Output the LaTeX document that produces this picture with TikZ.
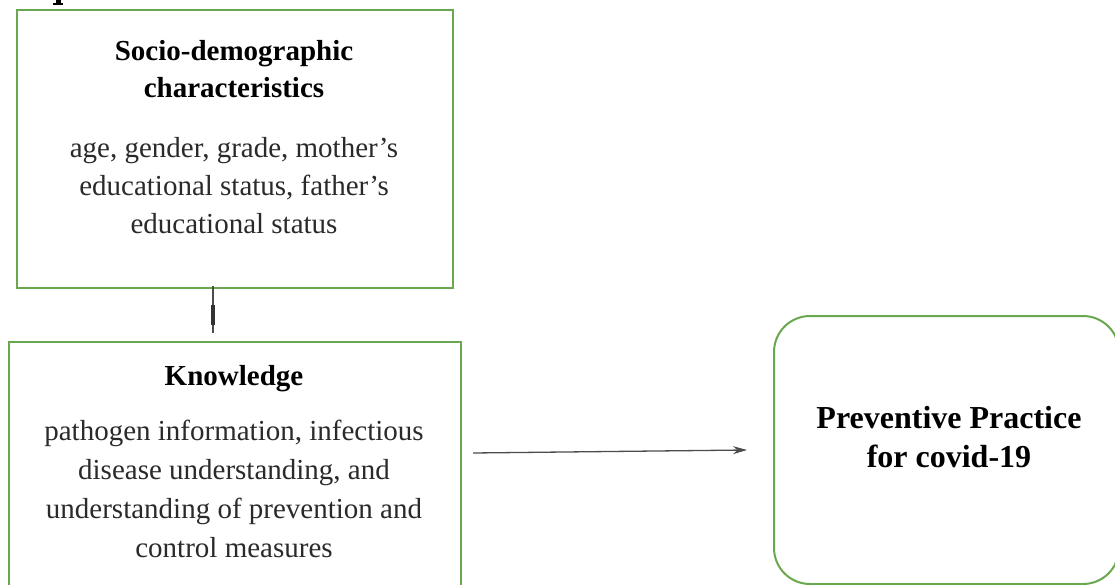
\documentclass[tikz,border=0pt]{standalone}
\usepackage{fontspec}
\setmainfont{Liberation Serif}
\usetikzlibrary{arrows.meta}
\definecolor{boxgreen}{HTML}{6AA84F}
\definecolor{inkgray}{HTML}{2A2A2A}
\newcommand{\myfirstline}[1]{\rule{0pt}{#1}}
\begin{document}
\begin{tikzpicture}[x=1pt,y=-1pt,
  box/.style={draw=boxgreen, line width=2pt, fill=white, inner sep=0pt},
  titletext/.style={font=\bfseries\fontsize{29}{37}\selectfont, text=black, align=center, inner sep=0pt, anchor=north},
  bodytext/.style={font=\fontsize{29}{38}\selectfont, text=inkgray, align=center, inner sep=0pt, anchor=north},
  bigtitle/.style={font=\bfseries\fontsize{32}{39}\selectfont, text=black, align=center, inner sep=0pt, anchor=north},
  link/.style={draw=black!70, line width=1.3pt}]
\useasboundingbox (0,0) rectangle (1115,585);
% mark left at the top edge by a cut-off heading
\fill[black] (56,0) rectangle (61,3.5);
\fill[black] (53,3) rectangle (63,5);
% boxes
\node[box, minimum width=436.5pt, minimum height=277.5pt, anchor=north west] (soc) at (15.5,9.5) {};
\node[box, minimum width=452pt, minimum height=270pt, anchor=north west] (know) at (8,341) {};
\node[box, rounded corners=36pt, minimum width=345pt, minimum height=268pt, anchor=north west] (prev) at (773,315) {};
% texts
\node[titletext] (soctitle) at (234,39) {\myfirstline{21pt}Socio-demographic\\characteristics};
\node[bodytext] (socbody) at (234,136) {\myfirstline{21pt}age, gender, grade, mother’s\\educational status, father’s\\educational status};
\node[titletext] (knowtitle) at (234,364) {\myfirstline{21pt}Knowledge};
\node[bodytext, font=\fontsize{29}{39}\selectfont] (knowbody) at (234,419) {\myfirstline{21pt}pathogen information, infectious\\disease understanding, and\\understanding of prevention and\\control measures};
\node[bigtitle] (prevtitle) at (949,405) {\myfirstline{23pt}Preventive Practice\\for covid-19};
% connectors
\coordinate (v0) at (213,286);
\coordinate (v1) at (213,333);
\coordinate (m0) at (213,305);
\coordinate (m1) at (213,325);
\draw[link] (v0) -- (v1);
\draw[draw=black!80, line width=3.5pt] (m0) -- (m1);
\coordinate (a0) at (473,453);
\coordinate (a1) at (747,450);
\draw[link, -{Stealth[length=14pt,width=8pt]}] (a0) -- (a1);
\end{tikzpicture}
\end{document}
